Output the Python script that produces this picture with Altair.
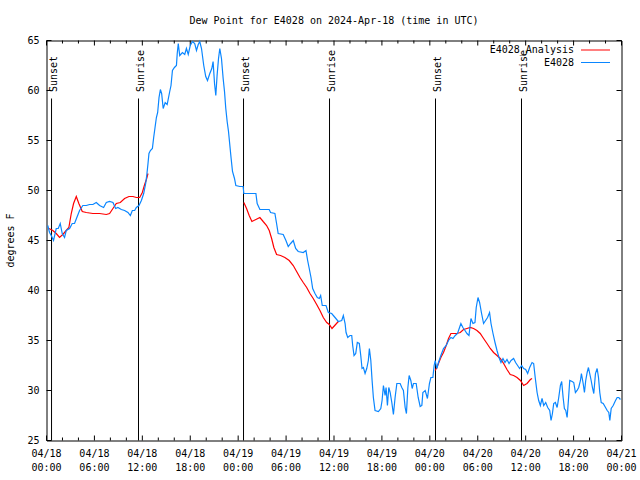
import altair as alt
import pandas as pd

# ---------------- data (hours since 2024-04-18 00:00 UTC, degrees F) ----------------
blue_hours = [
    0.16, 0.38, 0.59, 0.88, 1.22, 1.47, 1.72, 1.97, 2.26, 2.47,
    2.89, 3.22, 3.51, 3.80, 4.14, 4.55, 4.98, 5.39, 5.81, 6.23,
    6.65, 7.15, 7.49, 7.90, 8.32, 8.66, 8.94, 9.37, 9.78, 10.20,
    10.50, 10.75, 11.04, 11.25, 11.58, 11.88, 12.17, 12.42, 12.58, 12.71,
    12.83, 13.01, 13.26, 13.42, 13.59, 13.76, 13.92, 14.09, 14.26, 14.42,
    14.61, 14.86, 15.11, 15.43, 15.59, 15.77, 16.02, 16.27, 16.37, 16.50,
    16.68, 17.02, 17.31, 17.52, 17.75, 18.00, 18.28, 18.56, 18.78, 19.00,
    19.19, 19.41, 19.69, 19.94, 20.16, 20.45, 20.70, 20.86, 21.04, 21.20,
    21.36, 21.54, 21.70, 21.91, 22.12, 22.29, 22.45, 22.62, 22.79, 22.96,
    23.12, 23.29, 23.54, 23.71, 24.21, 24.62, 24.71, 25.46, 26.22, 26.38,
    26.72, 27.88, 28.06, 28.60, 28.81, 29.01, 29.64, 29.98, 30.27, 30.57,
    30.90, 31.20, 31.52, 32.15, 32.49, 32.70, 32.90, 33.12, 33.33, 33.62,
    33.91, 34.16, 34.33, 34.53, 35.00, 35.29, 35.71, 36.13, 36.54, 36.97,
    37.17, 37.39, 37.51, 37.72, 38.01, 38.22, 38.34, 38.51, 38.72, 38.92,
    39.17, 39.35, 39.51, 39.68, 39.89, 40.10, 40.30, 40.43, 40.61, 40.77,
    40.93, 41.14, 41.56, 41.86, 42.02, 42.19, 42.40, 42.52, 42.69, 42.86,
    43.03, 43.24, 43.44, 43.65, 43.87, 44.28, 44.49, 44.69, 44.91, 45.07,
    45.25, 45.41, 45.62, 45.79, 45.95, 46.29, 46.54, 46.79, 47.00, 47.13,
    47.42, 47.70, 47.95, 48.13, 48.38, 48.54, 48.67, 48.88, 49.08, 49.38,
    49.71, 50.05, 50.34, 50.64, 50.89, 51.18, 51.47, 51.72, 51.89, 52.14,
    52.40, 52.65, 52.90, 53.15, 53.40, 53.65, 53.81, 54.03, 54.23, 54.48,
    54.73, 54.98, 55.23, 55.48, 55.66, 55.91, 56.16, 56.41, 56.66, 56.91,
    57.16, 57.41, 57.66, 57.92, 58.17, 58.49, 58.74, 58.99, 59.24, 59.50,
    59.75, 60.00, 60.25, 60.50, 60.80, 61.00, 61.21, 61.43, 61.63, 61.84,
    62.05, 62.26, 62.51, 62.76, 63.01, 63.18, 63.35, 63.51, 63.72, 63.94,
    64.14, 64.35, 64.51, 64.69, 64.85, 65.02, 65.19, 65.35, 65.52, 65.82,
    66.02, 66.23, 66.44, 66.64, 66.86, 66.98, 67.20, 67.36, 67.52, 67.70,
    67.86, 68.02, 68.20, 68.36, 68.53, 68.74, 68.95, 69.12, 69.28, 69.46,
    69.71, 70.00, 70.21, 70.41, 70.54, 70.71, 70.96, 71.25, 71.46, 71.66,
    71.87,
]
blue_dewpoint = [
    46.5, 45.8, 45.5, 45.0, 46.2, 46.2, 46.7, 45.7, 45.3, 46.0,
    46.2, 46.7, 46.7, 47.3, 48.0, 48.5, 48.5, 48.6, 48.6, 48.8,
    48.5, 48.3, 48.8, 48.9, 48.8, 48.2, 48.3, 48.1, 48.0, 47.8,
    47.5, 48.0, 48.0, 48.3, 48.5, 49.0, 49.7, 50.7, 51.7, 52.7,
    53.7, 54.0, 54.2, 55.3, 56.3, 57.3, 57.8, 59.3, 60.1, 59.7,
    58.2, 58.8, 58.6, 59.9, 60.5, 62.0, 62.3, 62.5, 63.7, 64.7,
    63.5, 63.8, 63.6, 64.2, 63.6, 64.5, 64.9, 64.7, 64.0, 64.6,
    64.9, 64.2, 62.5, 61.4, 61.0, 61.7, 62.2, 62.9, 60.7, 59.5,
    61.5, 63.2, 64.2, 63.2, 61.2, 59.9, 58.2, 56.9, 55.9, 54.5,
    53.2, 51.9, 51.2, 50.5, 50.4, 50.4, 49.7, 49.7, 49.7, 48.7,
    48.1, 48.1, 47.8, 47.7, 46.7, 45.7, 45.6, 45.0, 44.4, 44.7,
    45.0, 44.2, 43.9, 43.8, 44.0, 43.0, 42.2, 41.3, 40.2, 39.7,
    39.3, 39.2, 39.5, 38.5, 38.5, 37.8, 37.7, 37.3, 36.9, 37.0,
    37.5, 36.7, 35.8, 35.3, 35.5, 35.5, 34.5, 33.5, 33.7, 34.8,
    34.7, 33.5, 32.2, 32.3, 31.7, 32.2, 33.0, 34.2, 33.0, 31.0,
    29.3, 28.0, 27.9, 28.2, 29.0, 30.5, 29.5, 30.3, 28.5, 30.3,
    29.8, 28.8, 27.6, 29.3, 30.7, 30.7, 30.3, 30.0, 28.3, 27.7,
    30.3, 31.5, 31.0, 30.2, 30.7, 30.7, 29.3, 28.4, 28.5, 29.8,
    30.0, 29.2, 30.7, 31.3, 31.3, 32.5, 33.0, 32.2, 32.8, 33.5,
    34.2, 34.5, 35.0, 35.3, 35.2, 35.5, 35.7, 36.3, 36.7, 36.3,
    36.0, 35.7, 35.5, 37.2, 36.7, 36.8, 38.3, 39.3, 38.8, 37.7,
    36.7, 37.0, 37.3, 37.8, 36.7, 35.7, 34.8, 34.0, 33.3, 32.8,
    33.2, 32.8, 33.1, 32.7, 33.0, 33.2, 32.8, 32.5, 32.2, 32.5,
    32.2, 32.1, 31.7, 32.3, 32.8, 32.7, 31.2, 29.8, 29.0, 28.5,
    29.2, 28.5, 28.8, 28.3, 28.0, 27.0, 27.7, 28.7, 28.8, 28.3,
    29.3, 30.5, 30.9, 29.3, 28.2, 28.0, 27.3, 29.0, 31.0, 30.9,
    30.8, 29.8, 30.0, 30.3, 31.0, 31.7, 30.7, 29.8, 31.0, 31.8,
    32.3, 31.7, 31.0, 30.3, 29.7, 31.7, 32.2, 31.3, 29.8, 28.8,
    28.7, 28.3, 28.0, 27.8, 27.0, 28.2, 28.5, 29.0, 29.3, 29.3,
    29.1,
]

red_hours_apr18 = [0.29, 0.79, 1.22, 1.63, 2.04, 2.47, 2.80, 3.10, 3.39, 3.73,
                   4.05, 4.48, 4.98, 5.81, 6.65, 7.49, 7.90, 8.32, 8.74, 9.24,
                   9.78, 10.32, 10.83, 11.25, 11.67, 12.00, 12.29, 12.51, 12.71]
red_dewpoint_apr18 = [46.2, 46.0, 45.7, 45.3, 45.6, 46.0, 46.3, 47.7, 48.7, 49.4,
                      48.7, 47.9, 47.8, 47.7, 47.7, 47.6, 47.7, 48.2, 48.7, 48.8,
                      49.2, 49.4, 49.4, 49.3, 49.3, 49.8, 50.6, 51.1, 51.7]
red_hours_apr19 = [24.71, 25.05, 25.38, 25.72, 26.22, 26.72, 27.13, 27.56, 27.89, 28.19,
                   28.47, 28.81, 29.31, 29.85, 30.39, 30.90, 31.32, 31.74, 32.15, 32.58,
                   32.99, 33.40, 33.83, 34.24, 34.66, 35.09, 35.41, 35.75, 36.09, 36.54]
red_dewpoint_apr19 = [48.8, 48.2, 47.5, 46.9, 47.1, 47.3, 46.9, 46.5, 46.0, 45.2,
                      44.3, 43.6, 43.5, 43.3, 43.0, 42.5, 41.9, 41.3, 40.8, 40.3,
                      39.7, 39.2, 38.6, 38.0, 37.3, 36.8, 36.6, 36.2, 36.5, 36.9]
red_hours_apr20 = [48.67, 48.88, 49.08, 49.38, 49.71, 50.05, 50.34, 50.64, 50.97, 51.39,
                   51.81, 52.22, 52.65, 53.06, 53.48, 53.90, 54.31, 54.73, 55.16, 55.57,
                   55.98, 56.41, 56.82, 57.24, 57.66, 58.07, 58.49, 58.92, 59.34, 59.75,
                   60.17, 60.59, 60.80]
red_dewpoint_apr20 = [32.0, 32.3, 32.7, 33.3, 33.8, 34.5, 35.2, 35.7, 35.7, 35.7,
                      35.8, 36.1, 36.2, 36.3, 36.2, 36.0, 35.7, 35.2, 34.7, 34.2,
                      33.8, 33.5, 33.2, 32.7, 32.1, 31.6, 31.5, 31.3, 31.0, 30.5,
                      30.7, 31.1, 31.2]

sun_hours = [0.63, 11.52, 24.67, 35.44, 48.71, 59.48]
sun_labels = ["Sunset", "Sunrise", "Sunset", "Sunrise", "Sunset", "Sunrise"]

x_major_ticks = [0, 6, 12, 18, 24, 30, 36, 42, 48, 54, 60, 66, 72]
x_date_labels = ["04/18", "04/18", "04/18", "04/18", "04/19", "04/19", "04/19",
                 "04/19", "04/20", "04/20", "04/20", "04/20", "04/21"]
x_time_labels = ["00:00", "06:00", "12:00", "18:00", "00:00", "06:00", "12:00",
                 "18:00", "00:00", "06:00", "12:00", "18:00", "00:00"]
x_minor_ticks = [h for h in range(2, 72, 2) if h % 6 != 0]
y_ticks = [25, 30, 35, 40, 45, 50, 55, 60, 65]

series_names = ["E4028_Analysis", "E4028"]
series_colors = ["#ff0000", "#0a86ff"]
title_text = "Dew Point for E4028 on 2024-Apr-18 (time in UTC)"
y_title_text = "degrees F"

# ---------------- chart ----------------
W, H = 575, 400
FONT = "DejaVu Sans Mono"
FS = 10
LW = 1.2

xs = alt.Scale(domain=[0, 72], nice=False, zero=False)
ys = alt.Scale(domain=[25, 65], nice=False, zero=False)


def X(f):
    return alt.X(f, type="quantitative", scale=xs, axis=None)


def Y(f):
    return alt.Y(f, type="quantitative", scale=ys, axis=None)


blue_df = pd.DataFrame({"h": blue_hours, "v": blue_dewpoint})
red_df = pd.concat([
    pd.DataFrame({"h": red_hours_apr18, "v": red_dewpoint_apr18, "seg": "a"}),
    pd.DataFrame({"h": red_hours_apr19, "v": red_dewpoint_apr19, "seg": "b"}),
    pd.DataFrame({"h": red_hours_apr20, "v": red_dewpoint_apr20, "seg": "c"}),
])
sun_df = pd.DataFrame({"h": sun_hours, "label": sun_labels})
xmaj_df = pd.DataFrame({"h": x_major_ticks, "d": x_date_labels, "t": x_time_labels})
xmin_df = pd.DataFrame({"h": x_minor_ticks})
y_df = pd.DataFrame({"v": y_ticks})

layers = []

# tick marks (inward, mirrored on all four sides)
layers.append(alt.Chart(xmaj_df).mark_rule(color="black", strokeWidth=1).encode(
    x=X("h"), y=alt.value(H), y2=alt.value(H - 5)))
layers.append(alt.Chart(xmaj_df).mark_rule(color="black", strokeWidth=1).encode(
    x=X("h"), y=alt.value(0), y2=alt.value(5)))
layers.append(alt.Chart(xmin_df).mark_rule(color="black", strokeWidth=1).encode(
    x=X("h"), y=alt.value(H), y2=alt.value(H - 3)))
layers.append(alt.Chart(xmin_df).mark_rule(color="black", strokeWidth=1).encode(
    x=X("h"), y=alt.value(0), y2=alt.value(3)))
layers.append(alt.Chart(y_df).mark_rule(color="black", strokeWidth=1).encode(
    y=Y("v"), x=alt.value(0), x2=alt.value(5)))
layers.append(alt.Chart(y_df).mark_rule(color="black", strokeWidth=1).encode(
    y=Y("v"), x=alt.value(W), x2=alt.value(W - 5)))

# tick labels
layers.append(alt.Chart(xmaj_df).mark_text(font=FONT, fontSize=FS, align="center",
                                           baseline="middle", color="black").encode(
    x=X("h"), y=alt.value(413), text="d:N"))
layers.append(alt.Chart(xmaj_df).mark_text(font=FONT, fontSize=FS, align="center",
                                           baseline="middle", color="black").encode(
    x=X("h"), y=alt.value(427), text="t:N"))
layers.append(alt.Chart(y_df).mark_text(font=FONT, fontSize=FS, align="right",
                                        baseline="middle", color="black").encode(
    y=Y("v"), x=alt.value(-7), text=alt.Text("v:Q", format="d")))

# sunrise / sunset markers
layers.append(alt.Chart(sun_df).mark_rule(color="black", strokeWidth=1).encode(
    x=X("h"), y=alt.value(58), y2=alt.value(H)))
layers.append(alt.Chart(sun_df).mark_text(font=FONT, fontSize=FS, angle=270, align="left",
                                          baseline="alphabetic", dy=5, color="black").encode(
    x=X("h"), y=alt.value(51.5), text="label:N"))

# series
layers.append(alt.Chart(red_df).mark_line(color=series_colors[0], strokeWidth=LW).encode(
    x=X("h"), y=Y("v"), detail="seg:N"))
layers.append(alt.Chart(blue_df).mark_line(color=series_colors[1], strokeWidth=LW).encode(
    x=X("h"), y=Y("v")))

# legend (gnuplot style: label then sample line)
for i, (name, col) in enumerate(zip(series_names, series_colors)):
    ly = 9.5 + 12.5 * i
    ldf = pd.DataFrame({"name": [name]})
    layers.append(alt.Chart(ldf).mark_text(font=FONT, fontSize=FS, align="right",
                                           baseline="middle", color="black").encode(
        x=alt.value(527.5), y=alt.value(ly), text="name:N"))
    layers.append(alt.Chart(ldf).mark_rule(color=col, strokeWidth=1).encode(
        x=alt.value(534.5), x2=alt.value(563.5), y=alt.value(ly)))

# titles
layers.append(alt.Chart(pd.DataFrame({"t": [title_text]})).mark_text(
    font=FONT, fontSize=FS, align="center", baseline="middle", color="black").encode(
    x=alt.value(W / 2), y=alt.value(-20), text="t:N"))
layers.append(alt.Chart(pd.DataFrame({"t": [y_title_text]})).mark_text(
    font=FONT, fontSize=FS, align="center", baseline="middle", angle=270, color="black").encode(
    x=alt.value(-35.5), y=alt.value(200), text="t:N"))

chart = alt.layer(*layers).properties(
    width=W, height=H,
    autosize=alt.AutoSizeParams(type="none"),
    padding={"left": 46.5, "top": 40.5, "right": 18.5, "bottom": 39.5},
    background="white",
).configure_view(stroke="black", strokeWidth=1)

chart.save("out.html", embed_options={"renderer": "svg", "actions": False})
